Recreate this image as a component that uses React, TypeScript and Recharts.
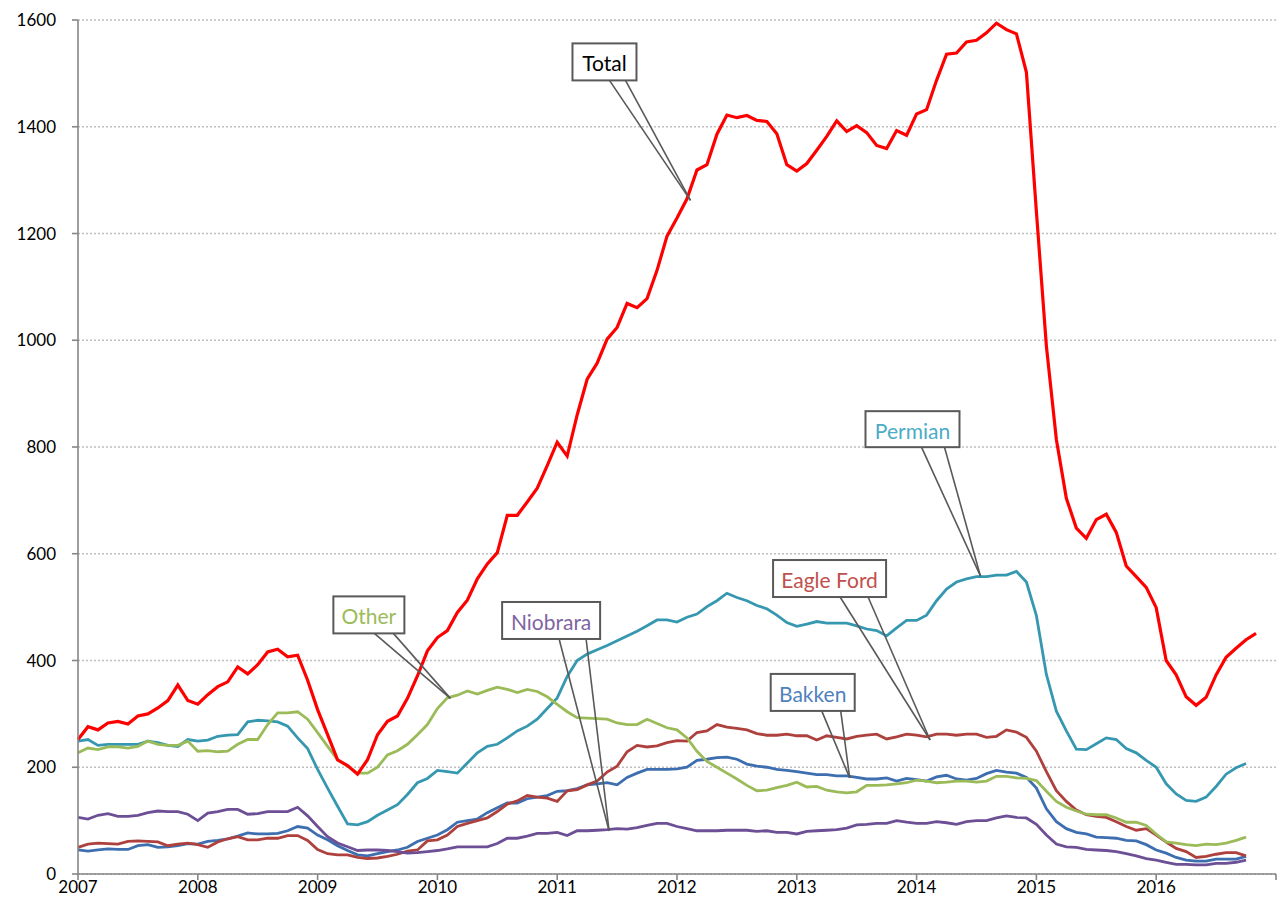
import { LineChart, Line, XAxis, YAxis, CartesianGrid, ReferenceDot } from 'recharts';

// monthly series, first point = Jan 2007
const startYear = 2007;
const yearLabels = [2007, 2008, 2009, 2010, 2011, 2012, 2013, 2014, 2015, 2016, 2017];
const valueTicks = [0, 200, 400, 600, 800, 1000, 1200, 1400, 1600];

const total = [
  252, 276, 270, 283, 286, 281, 296, 300, 311, 325, 354, 325,
  318, 336, 351, 360, 388, 375, 392, 416, 421, 407, 410, 363,
  308, 261, 214, 203, 187, 214, 261, 286, 296, 329, 371, 418,
  443, 456, 490, 513, 553, 581, 602, 672, 672, 697, 723, 765,
  809, 783, 860, 927, 957, 1002, 1024, 1069, 1061, 1078, 1131, 1195,
  1229, 1265, 1319, 1329, 1386, 1422, 1417, 1421, 1412, 1410, 1387, 1329,
  1317, 1331, 1356, 1382, 1411, 1391, 1402, 1389, 1365, 1359, 1393, 1384,
  1424, 1432, 1487, 1536, 1538, 1559, 1562, 1576, 1594, 1582, 1574, 1502,
  1241, 989, 814, 704, 648, 629, 664, 674, 640, 577, 557, 537,
  499, 400, 373, 332, 316, 331, 373, 406, 423, 439, 451,
];

const permian = [
  249, 252, 241, 243, 243, 243, 243, 249, 246, 241, 239, 252,
  249, 251, 258, 260, 261, 285, 288, 287, 285, 277, 255, 235,
  196, 161, 127, 94, 92, 98, 110, 120, 130, 149, 171, 179,
  194, 192, 189, 208, 227, 239, 243, 255, 268, 277, 290, 310,
  330, 370, 400, 412, 420, 428, 437, 446, 455, 465, 476, 476,
  472, 481, 487, 501, 512, 526, 518, 512, 503, 497, 485, 471,
  464, 468, 473, 470, 470, 470, 465, 459, 456, 446, 461, 475,
  475, 485, 512, 534, 547, 553, 557, 557, 560, 560, 567, 547,
  484, 374, 305, 268, 234, 233, 244, 255, 252, 235, 227, 213,
  200, 169, 150, 138, 136, 144, 164, 187, 199, 207,
];

const eagleFord = [
  50, 56, 58, 57, 56, 61, 62, 61, 60, 53, 56, 58,
  55, 50, 60, 66, 70, 64, 64, 67, 67, 72, 72, 63,
  46, 38, 36, 36, 31, 29, 30, 33, 37, 43, 45, 62,
  64, 73, 89, 95, 100, 105, 117, 131, 137, 147, 144, 142,
  136, 156, 158, 167, 174, 191, 202, 229, 241, 238, 240, 246,
  250, 249, 265, 268, 280, 275, 273, 270, 263, 260, 260, 262,
  259, 259, 251, 259, 256, 253, 258, 260, 262, 253, 257, 262,
  260, 257, 262, 262, 260, 262, 262, 256, 258, 270, 266, 256,
  230, 192, 156, 136, 120, 111, 108, 106, 98, 89, 82, 85,
  73, 60, 48, 42, 31, 33, 37, 40, 40, 34,
];

const bakken = [
  45, 43, 45, 47, 46, 46, 53, 55, 50, 51, 53, 57,
  56, 61, 63, 66, 71, 77, 75, 75, 76, 81, 89, 86,
  73, 64, 53, 44, 36, 34, 38, 42, 45, 50, 61, 67,
  73, 83, 97, 100, 103, 115, 124, 133, 133, 141, 144, 147,
  155, 156, 160, 167, 169, 171, 167, 181, 189, 196, 196, 196,
  197, 200, 213, 215, 218, 219, 215, 206, 202, 200, 196, 194,
  192, 189, 186, 186, 184, 184, 181, 178, 178, 180, 174, 179,
  177, 174, 182, 185, 178, 176, 179, 188, 194, 191, 189, 181,
  161, 122, 98, 85, 78, 75, 69, 68, 67, 63, 62, 55,
  45, 39, 31, 26, 24, 24, 28, 28, 28, 33,
];

const niobrara = [
  106, 103, 110, 113, 108, 108, 110, 115, 118, 117, 117, 112,
  100, 114, 117, 121, 121, 112, 113, 117, 117, 117, 125, 109,
  89, 70, 58, 51, 44, 45, 45, 44, 42, 39, 40, 42,
  44, 47, 51, 51, 51, 51, 57, 67, 67, 71, 76, 76,
  78, 72, 81, 81, 82, 83, 85, 84, 87, 91, 95, 95,
  89, 85, 81, 81, 81, 82, 82, 82, 80, 81, 78, 78,
  75, 80, 81, 82, 83, 86, 92, 93, 95, 95, 100, 97,
  95, 95, 98, 96, 93, 98, 100, 100, 105, 109, 106, 105,
  93, 73, 56, 51, 50, 46, 45, 44, 42, 38, 34, 29,
  26, 22, 18, 18, 17, 17, 20, 20, 22, 26,
];

const other = [
  227, 236, 233, 238, 238, 236, 239, 249, 243, 241, 241, 249,
  230, 231, 229, 230, 243, 252, 252, 280, 302, 302, 304, 290,
  265, 239, 214, 202, 189, 189, 200, 223, 231, 243, 261, 280,
  310, 330, 335, 343, 337, 344, 350, 346, 340, 346, 342, 332,
  318, 304, 293, 292, 291, 290, 283, 280, 280, 290, 282, 274,
  270, 255, 230, 211, 200, 189, 178, 166, 156, 157, 162, 166,
  172, 163, 164, 157, 154, 152, 154, 166, 166, 167, 169, 171,
  176, 174, 171, 172, 174, 174, 172, 174, 183, 183, 180, 179,
  175, 155, 136, 125, 118, 112, 111, 111, 105, 97, 97, 91,
  75, 60, 58, 55, 53, 56, 55, 58, 63, 69,
];

const rows = total.map((t, i) => ({
  m: i,
  total: t,
  permian: permian[i],
  eagleFord: eagleFord[i],
  bakken: bakken[i],
  niobrara: niobrara[i],
  other: other[i],
}));

const monthTicks = yearLabels.map((y) => (y - startYear) * 12);

const font = 'Lato, "Open Sans", sans-serif';

// callout boxes: tip sits on the series (data coords), box drawn at pixel offsets from the tip
const callouts = [
  { text: 'Total', color: '#000000', m: 61.35, v: 1262, box: [-118, -157, 64, 37], base: [-81, -65] },
  { text: 'Permian', color: '#4BACC6', m: 90.4, v: 558, box: [-115, -165, 94, 36], base: [-59, -36] },
  { text: 'Eagle Ford', color: '#C0504D', m: 85.35, v: 251, box: [-157, -180, 113, 37], base: [-90, -62] },
  { text: 'Bakken', color: '#4F81BD', m: 77.3, v: 180, box: [-79, -104, 84, 37], base: [-28, -9] },
  { text: 'Niobrara', color: '#8064A2', m: 53.2, v: 80.6, box: [-107, -229, 98, 37], base: [-50, -23] },
  { text: 'Other', color: '#9BBB59', m: 37.3, v: 329, box: [-117, -102, 71, 37], base: [-76, -57] },
];

function Callout({ cx, cy, c }: { cx: number; cy: number; c: any }) {
  const [bx, by, bw, bh] = c.box;
  const x = cx + bx;
  const y = cy + by;
  return (
    <g>
      <line x1={cx + c.base[0]} y1={y + bh} x2={cx} y2={cy} stroke="#595959" strokeWidth={1.6} />
      <line x1={cx + c.base[1]} y1={y + bh} x2={cx} y2={cy} stroke="#595959" strokeWidth={1.6} />
      <rect x={x} y={y} width={bw} height={bh} fill="#ffffff" stroke="#595959" strokeWidth={2} />
      <text
        x={x + bw / 2}
        y={y + bh / 2 + 1}
        textAnchor="middle"
        dominantBaseline="central"
        fill={c.color}
        fontSize={21}
        fontFamily={font}
      >
        {c.text}
      </text>
    </g>
  );
}

export default function App() {
  const tickStyle = { fill: '#000000', fontSize: 17, fontFamily: font };
  return (
    <div style={{ position: 'absolute', left: 0, top: 0, background: '#ffffff' }}>
      <LineChart width={1279} height={918} data={rows} margin={{ top: 20, right: 3, bottom: 14, left: 28 }}>
        <CartesianGrid vertical={false} stroke="#BFBFBF" strokeDasharray="2 2" strokeWidth={1.3} />
        <XAxis
          type="number"
          dataKey="m"
          domain={[0, 120]}
          ticks={monthTicks}
          interval={0}
          tickFormatter={(v: number) => (v >= 120 ? '' : String(startYear + v / 12))}
          height={30}
          tickSize={6}
          tickMargin={1}
          axisLine={{ stroke: '#868686', strokeWidth: 1.6 }}
          tickLine={{ stroke: '#868686', strokeWidth: 1.6 }}
          tick={tickStyle}
        />
        <YAxis
          domain={[0, 1600]}
          ticks={valueTicks}
          interval={0}
          width={50}
          tickSize={6}
          tickMargin={16}
          axisLine={{ stroke: '#868686', strokeWidth: 1.6 }}
          tickLine={{ stroke: '#868686', strokeWidth: 1.6 }}
          tick={tickStyle}
        />
        <Line type="linear" dataKey="bakken" stroke="#3D6EB0" strokeWidth={2.8} dot={false} isAnimationActive={false} />
        <Line type="linear" dataKey="eagleFord" stroke="#AE403D" strokeWidth={2.8} dot={false} isAnimationActive={false} />
        <Line type="linear" dataKey="niobrara" stroke="#6D4F96" strokeWidth={2.8} dot={false} isAnimationActive={false} />
        <Line type="linear" dataKey="permian" stroke="#3698B0" strokeWidth={2.8} dot={false} isAnimationActive={false} />
        <Line type="linear" dataKey="other" stroke="#9BBB59" strokeWidth={2.8} dot={false} isAnimationActive={false} />
        <Line type="linear" dataKey="total" stroke="#FF0000" strokeWidth={3.2} dot={false} isAnimationActive={false} />
        {callouts.map((c) => (
          <ReferenceDot
            key={c.text}
            x={c.m}
            y={c.v}
            r={0}
            shape={(p: any) => <Callout cx={p.cx} cy={p.cy} c={c} />}
          />
        ))}
      </LineChart>
    </div>
  );
}
